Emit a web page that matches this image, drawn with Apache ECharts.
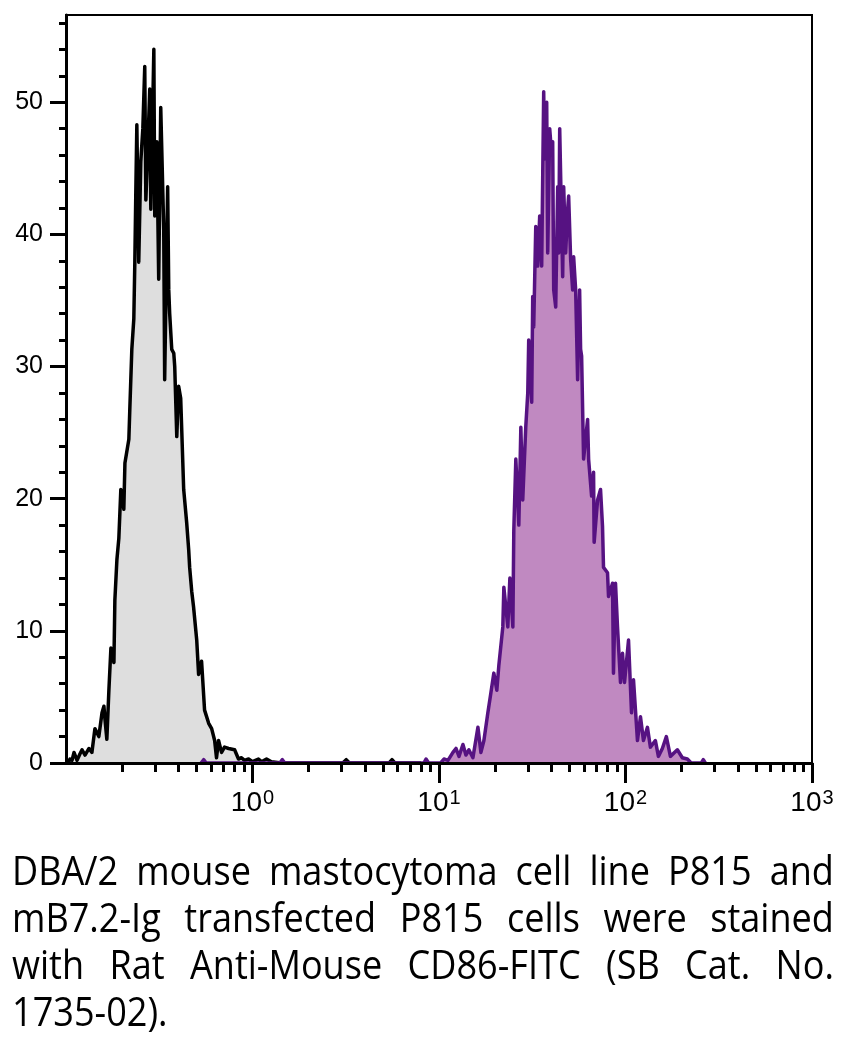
<!DOCTYPE html>
<html>
<head>
<meta charset="utf-8">
<script src="https://cdn.jsdelivr.net/npm/echarts@6/dist/echarts.min.js"></script>
<style>
  html, body { margin: 0; padding: 0; background: #fff; }
  #wrap { position: relative; width: 846px; height: 1046px; overflow: hidden; }
  #chart { position: absolute; left: 0; top: 0; width: 846px; height: 1046px; }
  #caption { position: absolute; left: 12px; top: 846px; width: 934px;
    transform: scaleX(0.88); transform-origin: left top;
    font-family: "Open Sans", "Noto Sans", sans-serif; font-size: 41px; line-height: 47px; color: #000; }
  #caption div { text-align: justify; text-align-last: justify; white-space: nowrap; }
  #caption div.last { text-align-last: left; }
</style>
</head>
<body>
<div id="wrap">
  <div id="chart"></div>
  <div id="caption"></div>
</div>
<script>
// ---- data ----
// Control P815 cells (black outline, grey fill): fluorescence and count
const controlX = [0.1026, 0.105, 0.1077, 0.1104, 0.1146, 0.1189, 0.1219, 0.1265, 0.1328, 0.1377,
  0.1429, 0.150, 0.156, 0.1597, 0.1618, 0.1656, 0.1698, 0.1741, 0.1807, 0.1828,
  0.1875, 0.192, 0.1968, 0.2042, 0.207, 0.2173, 0.2198, 0.2254, 0.231, 0.2339,
  0.2366, 0.2398, 0.2455, 0.2518, 0.2582, 0.2644, 0.268, 0.2748, 0.2812, 0.285,
  0.2958, 0.2992, 0.3069, 0.3141, 0.3221, 0.3342, 0.3381, 0.3508, 0.3556, 0.3597,
  0.3690, 0.3784, 0.3828, 0.3926, 0.4018, 0.4121, 0.4276, 0.4436, 0.4550, 0.4603,
  0.4721, 0.4831, 0.5023, 0.5140, 0.5333, 0.5534, 0.5821, 0.6039, 0.6266, 0.6412,
  0.6577, 0.6823, 0.7079, 0.7447, 0.8017, 0.8414, 0.8730, 0.9057, 0.9528, 1.0,
  1.076, 1.117, 1.189, 1.263, 1.429, 3.05, 3.18, 3.31, 5.40, 5.60, 5.80, 8.0];
const controlY = [0, 0.3, 0.2, 0.8, 0.2, 0.7, 1.0, 0.6, 1.1, 0.8,
  2.6, 2.0, 3.8, 4.3, 3.3, 1.8, 5.5, 8.7, 7.6, 12.3,
  15.4, 17.0, 20.7, 19.2, 22.7, 24.5, 26.7, 31.3, 33.6, 37.9,
  42.9, 48.3, 37.9, 45.5, 48.0, 52.7, 42.6, 46.7, 51.0, 41.9,
  54.0, 41.4, 47.0, 36.6, 49.6, 40.4, 29.0, 43.6, 35.8, 34.0,
  31.3, 31.0, 30.0, 24.7, 28.5, 27.6, 20.7, 18.2, 16.1, 14.8,
  13.0, 11.8, 9.3, 6.7, 7.7, 4.0, 3.0, 2.6, 1.7, 0.4,
  1.7, 0.8, 1.2, 1.1, 1.0, 0.3, 0.4, 0.2, 0.3, 0.1,
  0.3, 0.1, 0.3, 0.1, 0, 0, 0.25, 0, 0, 0.25, 0, 0];

// mB7.2-Ig transfected P815 cells (purple outline, mauve fill): fluorescence and count
const transX = [0.53, 0.547, 0.565, 1.40, 1.446, 1.49, 8.30, 8.52, 8.80, 10.2,
  10.63, 11.17, 11.88, 12.33, 12.80, 13.44, 13.94, 14.46, 15.20, 16.17,
  16.78, 17.41, 18.28, 18.97, 19.68, 20.42, 20.94, 21.99, 22.27, 23.39,
  23.99, 24.89, 25.18, 25.82, 26.79, 27.47, 28.12, 29.18, 29.92, 30.27,
  31.41, 31.80, 32.20, 33.02, 33.83, 34.67, 35.53, 36.42, 36.87, 37.80,
  38.27, 39.23, 40.20, 40.70, 41.21, 42.25, 43.29, 43.83, 44.38, 46.04,
  46.62, 47.77, 48.96, 49.57, 50.80, 52.07, 52.72, 54.04, 55.37, 56.75,
  57.45, 58.17, 59.61, 62.63, 63.41, 65.79, 67.42, 67.9, 70.83, 73.47,
  75.30, 76.23, 80.09, 81.09, 85.2, 86.2, 88.4, 90.6, 94.0, 96.4,
  98.8, 103.8, 107.7, 110.4, 115.9, 120.3, 124.8, 131.1, 136.0, 144.6,
  150.1, 157.6, 165.6, 174.1, 189.7, 201.7, 214.6, 225.0, 255.0, 261.3, 268.0];
const transY = [0, 0.25, 0, 0, 0.25, 0, 0, 0.3, 0, 0,
  0.3, 0.2, 0.8, 1.1, 0.5, 1.4, 0.6, 1.0, 0.4, 2.7,
  0.8, 1.7, 3.8, 5.3, 6.8, 5.5, 7.4, 10.3, 13.3, 10.3,
  14.0, 10.3, 17.6, 23.0, 18.0, 25.4, 19.9, 25.4, 28.0, 32.0,
  27.3, 35.3, 33.0, 40.6, 37.6, 41.4, 37.6, 50.8, 45.7, 50.0,
  38.6, 48.0, 46.0, 47.0, 35.8, 34.5, 43.6, 38.6, 48.0, 36.8,
  43.6, 38.6, 41.9, 42.9, 38.1, 35.8, 38.3, 35.8, 29.0, 35.8,
  31.3, 30.8, 23.0, 26.0, 23.0, 20.2, 22.0, 16.7, 19.9, 20.7,
  17.9, 14.8, 14.4, 12.6, 13.6, 6.8, 13.6, 10.3, 6.1, 8.3,
  6.1, 9.3, 3.8, 6.3, 1.7, 3.5, 1.7, 2.7, 1.2, 1.7,
  0.5, 1.1, 2.0, 0.5, 1.0, 0.4, 0.3, 0, 0, 0.25, 0];

// axis ticks / labels
const xMajorTicks = [1, 10, 100, 1000];
const xMajorExponents = ['0', '1', '2', '3'];
const xMinorTicks = [0.2, 0.3, 0.4, 0.5, 0.6, 0.7, 0.8, 0.9,
  2, 3, 4, 5, 6, 7, 8, 9, 20, 30, 40, 50, 60, 70, 80, 90,
  200, 300, 400, 500, 600, 700, 800, 900];
const yMajorTicks = [0, 10, 20, 30, 40, 50];
const yMinorTicks = [2, 4, 6, 8, 12, 14, 16, 18, 22, 24, 26, 28, 32, 34, 36, 38,
  42, 44, 46, 48, 52, 54, 56];
const captionLines = [
  'DBA/2 mouse mastocytoma cell line P815 and',
  'mB7.2-Ig transfected P815 cells were stained',
  'with Rat Anti-Mouse CD86-FITC (SB Cat. No.',
  '1735-02).'
];

// ---- caption ----
const cap = document.getElementById('caption');
captionLines.forEach((t, i) => {
  const d = document.createElement('div');
  d.textContent = t;
  if (i === captionLines.length - 1) d.className = 'last';
  cap.appendChild(d);
});

// ---- chart ----
const zip = (xs, ys) => xs.map((x, i) => [x, ys[i]]);
const chart = echarts.init(document.getElementById('chart'), null, { renderer: 'canvas' });
const xRange = { min: 0.1, max: 1000 };
const yRange = { min: 0, max: 56.6 };
const tickFont = 'Liberation Sans, Arial, sans-serif';
chart.setOption({
  animation: false,
  backgroundColor: '#fff',
  grid: { left: 66, right: 34, top: 15, bottom: 283, show: true, borderColor: '#000', borderWidth: 2, backgroundColor: 'transparent' },
  xAxis: [
    {
      type: 'log', logBase: 10, position: 'bottom', min: xRange.min, max: xRange.max, z: 10,
      splitLine: { show: false },
      axisLine: { show: true, onZero: false, lineStyle: { color: '#000', width: 3 } },
      axisTick: { show: true, inside: false, length: 20, customValues: xMajorTicks, lineStyle: { color: '#000', width: 3 } },
      axisLabel: {
        show: true, margin: 25, customValues: xMajorTicks,
        formatter: v => '10{s|' + xMajorExponents[xMajorTicks.indexOf(v)] + '}',
        color: '#000', fontFamily: tickFont, fontSize: 28,
        rich: { s: { fontSize: 20, color: '#000', fontFamily: tickFont, verticalAlign: 'top', padding: [0, 0, 10, 1] } }
      }
    },
    {
      type: 'log', logBase: 10, position: 'bottom', min: xRange.min, max: xRange.max, z: 10,
      splitLine: { show: false },
      axisLine: { show: false, onZero: false },
      axisTick: { show: true, inside: false, length: 9, customValues: xMinorTicks, lineStyle: { color: '#000', width: 3 } },
      axisLabel: { show: false }
    }
  ],
  yAxis: [
    {
      type: 'value', position: 'left', min: yRange.min, max: yRange.max, z: 10,
      splitLine: { show: false },
      axisLine: { show: true, onZero: false, lineStyle: { color: '#000', width: 3 } },
      axisTick: { show: true, inside: false, length: 16, customValues: yMajorTicks, lineStyle: { color: '#000', width: 3 } },
      axisLabel: { show: true, margin: 23, customValues: yMajorTicks, color: '#000',
        fontFamily: tickFont, fontSize: 25 }
    },
    {
      type: 'value', position: 'left', min: yRange.min, max: yRange.max, z: 10,
      splitLine: { show: false },
      axisLine: { show: false, onZero: false },
      axisTick: { show: true, inside: false, length: 7, customValues: yMinorTicks, lineStyle: { color: '#000', width: 3 } },
      axisLabel: { show: false }
    }
  ],
  series: [
    {
      name: 'P815', type: 'line', xAxisIndex: 0, yAxisIndex: 0,
      data: zip(controlX, controlY), showSymbol: false, symbol: 'none',
      lineStyle: { color: '#000', width: 3.5, join: 'round' },
      areaStyle: { color: '#dedede', opacity: 1, origin: 'start' }, z: 2
    },
    {
      name: 'mB7.2-Ig P815', type: 'line', xAxisIndex: 0, yAxisIndex: 0,
      data: zip(transX, transY), showSymbol: false, symbol: 'none',
      lineStyle: { color: '#561282', width: 3.5, join: 'round' },
      areaStyle: { color: '#c089c1', opacity: 1, origin: 'start' }, z: 3
    }
  ]
});
</script>
</body>
</html>
